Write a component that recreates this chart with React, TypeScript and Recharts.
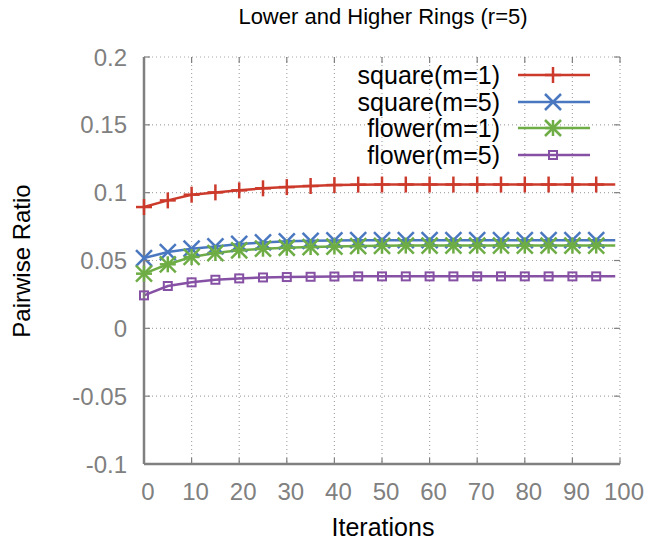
import React from 'react';
import { LineChart, Line, XAxis, YAxis, CartesianGrid } from 'recharts';

const iterations = [0, 5, 10, 15, 20, 25, 30, 35, 40, 45, 50, 55, 60, 65, 70, 75, 80, 85, 90, 95, 99];
const squareM1 = [0.0894, 0.0943, 0.0985, 0.1002, 0.1017, 0.1032, 0.1041, 0.1049, 0.1056, 0.1059, 0.106, 0.106, 0.106, 0.106, 0.106, 0.106, 0.106, 0.106, 0.106, 0.106, 0.106];
const squareM5 = [0.0518, 0.0562, 0.0587, 0.0604, 0.0622, 0.0633, 0.0641, 0.0645, 0.0648, 0.065, 0.065, 0.065, 0.065, 0.065, 0.065, 0.065, 0.065, 0.065, 0.065, 0.065, 0.065];
const flowerM1 = [0.0403, 0.0472, 0.0526, 0.0555, 0.0575, 0.0587, 0.0594, 0.0599, 0.0603, 0.0606, 0.0608, 0.061, 0.061, 0.061, 0.061, 0.061, 0.061, 0.061, 0.061, 0.061, 0.061];
const flowerM5 = [0.0243, 0.0312, 0.0339, 0.0358, 0.0368, 0.0375, 0.0378, 0.038, 0.0382, 0.0383, 0.0383, 0.0383, 0.0383, 0.0383, 0.0383, 0.0383, 0.0383, 0.0383, 0.0383, 0.0383, 0.0383];
const xTicks = [0, 10, 20, 30, 40, 50, 60, 70, 80, 90, 100];
const yTicks = [-0.1, -0.05, 0, 0.05, 0.1, 0.15, 0.2];

const data = iterations.map((it, i) => ({
  it, sq1: squareM1[i], sq5: squareM5[i], fl1: flowerM1[i], fl5: flowerM5[i],
}));

const FONT = '"Liberation Sans", Arial, Helvetica, sans-serif';
const AXIS = '#808080';
const GRID = '#a8a8a8';

const SERIES = [
  { key: 'sq1', name: 'square(m=1)', color: '#cc3a2b', shape: 'plus' },
  { key: 'sq5', name: 'square(m=5)', color: '#4a78c0', shape: 'cross' },
  { key: 'fl1', name: 'flower(m=1)', color: '#6ead45', shape: 'star' },
  { key: 'fl5', name: 'flower(m=5)', color: '#8651a4', shape: 'square' },
];

// plot box (used only for the mirrored gnuplot-style tick marks)
const LEFT = 144, RIGHT = 620, TOP = 57, BOTTOM = 464;

function Marker({ cx, cy, shape, color }: { cx: number; cy: number; shape: string; color: string }) {
  const s = 8;
  if (shape === 'plus') {
    return (
      <g stroke={color} strokeWidth={2.5}>
        <line x1={cx - s} y1={cy} x2={cx + s} y2={cy} />
        <line x1={cx} y1={cy - s} x2={cx} y2={cy + s} />
      </g>
    );
  }
  if (shape === 'cross') {
    return (
      <g stroke={color} strokeWidth={2.5}>
        <line x1={cx - s} y1={cy - s} x2={cx + s} y2={cy + s} />
        <line x1={cx - s} y1={cy + s} x2={cx + s} y2={cy - s} />
      </g>
    );
  }
  if (shape === 'star') {
    return (
      <g stroke={color} strokeWidth={2.5}>
        <line x1={cx - s} y1={cy - s} x2={cx + s} y2={cy + s} />
        <line x1={cx - s} y1={cy + s} x2={cx + s} y2={cy - s} />
        <line x1={cx - s} y1={cy} x2={cx + s} y2={cy} />
        <line x1={cx} y1={cy - s} x2={cx} y2={cy + s} />
      </g>
    );
  }
  return <rect x={cx - 4} y={cy - 4} width={8} height={8} fill="none" stroke={color} strokeWidth={2} />;
}

/* eslint-disable @typescript-eslint/no-explicit-any */
const makeDot = (shape: string, color: string) => (props: any) => {
  const { cx, cy, payload, index } = props;
  if (payload.it % 5 !== 0) return <g key={`d-${index}`} />;
  return <g key={`d-${index}`}><Marker cx={cx} cy={cy} shape={shape} color={color} /></g>;
};

function XTick({ x, y, payload }: any) {
  return (
    <g>
      <line x1={x} y1={BOTTOM} x2={x} y2={BOTTOM - 6} stroke={AXIS} strokeWidth={1.2} />
      <line x1={x} y1={TOP} x2={x} y2={TOP + 6} stroke={AXIS} strokeWidth={1.2} />
      <text x={x + 4} y={y} dy="0.71em" textAnchor="middle" fill={AXIS} fontSize={24} fontFamily={FONT}>
        {payload.value}
      </text>
    </g>
  );
}

function YTick({ x, y, payload }: any) {
  return (
    <g>
      <line x1={LEFT} y1={y} x2={LEFT + 6} y2={y} stroke={AXIS} strokeWidth={1.2} />
      <line x1={RIGHT} y1={y} x2={RIGHT - 6} y2={y} stroke={AXIS} strokeWidth={1.2} />
      <text x={x} y={y} dy="0.36em" textAnchor="end" fill={AXIS} fontSize={24} fontFamily={FONT}>
        {payload.value}
      </text>
    </g>
  );
}

function LegendBox() {
  return (
    <div style={{ position: 'absolute', top: 62, left: 300, width: 290, fontFamily: FONT, fontSize: 25, color: '#000' }}>
      {SERIES.map((s) => (
        <div key={s.key} style={{ display: 'flex', alignItems: 'center', justifyContent: 'flex-end', height: 26.5 }}>
          <span style={{ lineHeight: '26px' }}>{s.name}</span>
          <svg width={90} height={26}>
            <line x1={18} y1={13} x2={90} y2={13} stroke={s.color} strokeWidth={2.5} />
            <Marker cx={53} cy={13} shape={s.shape} color={s.color} />
          </svg>
        </div>
      ))}
    </div>
  );
}

export default function App() {
  return (
    <div style={{ position: 'absolute', left: 0, top: 0, width: 648, height: 549, background: '#fff', fontFamily: FONT }}>
      <LineChart width={648} height={549} data={data} margin={{ top: TOP, right: 648 - RIGHT, bottom: 0, left: 0 }}>
        <CartesianGrid stroke={GRID} strokeDasharray="1 3" strokeWidth={1.2} />
        <XAxis
          dataKey="it" type="number" domain={[0, 100]} ticks={xTicks} height={549 - BOTTOM}
          axisLine={{ stroke: AXIS, strokeWidth: 2.5 }} tickLine={false} tickSize={0} tickMargin={19}
          tick={<XTick />} interval={0}
        />
        <YAxis
          type="number" domain={[-0.1, 0.2]} ticks={yTicks} width={LEFT} allowDataOverflow
          axisLine={{ stroke: AXIS, strokeWidth: 2.5 }} tickLine={false} tickSize={0} tickMargin={17}
          tick={<YTick />} interval={0}
        />
        {SERIES.map((s) => (
          <Line
            key={s.key} type="linear" dataKey={s.key} name={s.name} stroke={s.color} strokeWidth={2.5}
            dot={makeDot(s.shape, s.color)} activeDot={false} isAnimationActive={false}
          />
        ))}
      </LineChart>
      <div style={{ position: 'absolute', top: 4, left: 144, width: 478, textAlign: 'center', fontSize: 22, color: '#000' }}>
        Lower and Higher Rings (r=5)
      </div>
      <div
        style={{
          position: 'absolute', left: 22, top: 261, fontSize: 24, color: '#000', whiteSpace: 'nowrap',
          transform: 'translate(-50%, -50%) rotate(-90deg)',
        }}
      >
        Pairwise Ratio
      </div>
      <div style={{ position: 'absolute', top: 513, left: 144, width: 478, textAlign: 'center', fontSize: 25, color: '#000' }}>
        Iterations
      </div>
      <LegendBox />
    </div>
  );
}
